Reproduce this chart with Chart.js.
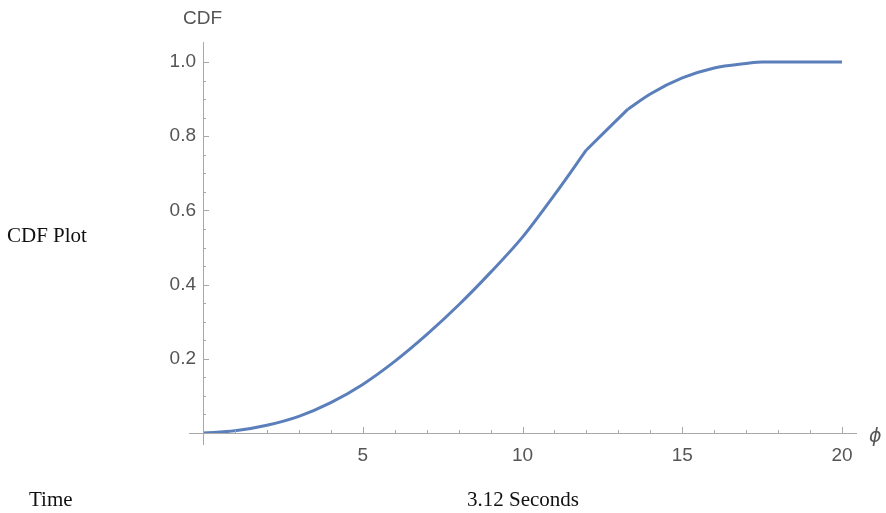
<!DOCTYPE html>
<html>
<head>
<meta charset="utf-8">
<script src="https://cdn.jsdelivr.net/npm/chart.js@4.4.0/dist/chart.umd.min.js"></script>
<style>
  html, body { margin: 0; padding: 0; background: #fff; }
  #wrap { position: relative; width: 886px; height: 513px; overflow: hidden; }
  #cdf { position: absolute; left: 0; top: 0; }
  .lbl { position: absolute; white-space: nowrap; line-height: 1; }
  .sans { font-family: 'Liberation Sans', Arial, sans-serif; color: #555; font-size: 19px; }
  .serif { font-family: 'Liberation Serif', 'Times New Roman', serif; color: #111; font-size: 21px; }
</style>
</head>
<body>
<div id="wrap">
  <canvas id="cdf" width="886" height="513"></canvas>
  <div class="lbl sans" style="left:183px; top:8px;">CDF</div>
  <div class="lbl sans" style="left:869px; top:426px; font-family:'DejaVu Sans',sans-serif; font-style:italic;">ϕ</div>
  <div class="lbl serif" style="left:7px; top:225px;">CDF Plot</div>
  <div class="lbl serif" style="left:29px; top:489px;">Time</div>
  <div class="lbl serif" style="left:467px; top:489px;">3.12 Seconds</div>
</div>
<script>
// values, in three pieces (kinks at 12 and 13.3)
const phiRise = [0, 1, 2, 3, 4, 5, 6, 7, 8, 9, 10, 11, 12];
const cdfRise = [0, 0.006, 0.021, 0.045, 0.082, 0.131, 0.193, 0.265, 0.345, 0.433, 0.528, 0.642, 0.763];
const phiBend = [12, 13.3];
const cdfBend = [0.763, 0.873];
const phiTail = [13.3, 14, 15, 16, 17, 17.5, 18, 19, 20];
const cdfTail = [0.873, 0.914, 0.957, 0.984, 0.996, 1.0, 1.0, 1.0, 1.0];
const xTickValues = [5, 10, 15, 20];
const yTickValues = [0.2, 0.4, 0.6, 0.8, 1.0];

const AXIS_COLOR = '#a8a8a8';
const LINE_COLOR = '#5b7fba';

// Mathematica-like axes crossing at the origin, with minor ticks
const axesPlugin = {
  id: 'originAxes',
  afterDraw(chart) {
    const ctx = chart.ctx;
    const xs = chart.scales.x, ys = chart.scales.y;
    const x0 = xs.getPixelForValue(0), y0 = ys.getPixelForValue(0);
    ctx.save();
    ctx.strokeStyle = AXIS_COLOR;
    ctx.lineWidth = 1;
    ctx.beginPath();
    ctx.moveTo(x0 - 14, y0 + 0.5);
    ctx.lineTo(xs.right + 15, y0 + 0.5);
    ctx.moveTo(x0 + 0.5, chart.chartArea.top);
    ctx.lineTo(x0 + 0.5, y0 + 12);
    for (let v = 1; v <= 20; v++) {
      const px = Math.round(xs.getPixelForValue(v)) + 0.5;
      const len = v % 5 === 0 ? 6 : 3;
      ctx.moveTo(px, y0);
      ctx.lineTo(px, y0 - len);
    }
    for (let i = 1; i <= 20; i++) {
      const py = Math.round(ys.getPixelForValue(i * 0.05)) + 0.5;
      const len = i % 4 === 0 ? 6 : 3;
      ctx.moveTo(x0, py);
      ctx.lineTo(x0 + len, py);
    }
    ctx.stroke();
    ctx.restore();
  }
};

const piece = (xs, ys) => ({
  data: xs.map((x, i) => ({ x: x, y: ys[i] })),
  borderColor: LINE_COLOR,
  borderWidth: 3,
  pointRadius: 0,
  fill: false,
  cubicInterpolationMode: 'monotone'
});

new Chart(document.getElementById('cdf'), {
  type: 'line',
  data: {
    datasets: [piece(phiRise, cdfRise), piece(phiBend, cdfBend), piece(phiTail, cdfTail)]
  },
  options: {
    responsive: false,
    animation: false,
    devicePixelRatio: 1,
    layout: { padding: { top: 42, right: 44, bottom: 0, left: 0 } },
    plugins: { legend: { display: false }, tooltip: { enabled: false } },
    scales: {
      x: {
        type: 'linear',
        min: 0, max: 20,
        grid: { display: false, drawTicks: false },
        border: { display: false },
        afterBuildTicks: s => { s.ticks = xTickValues.map(v => ({ value: v })); },
        afterFit: s => { s.height = 80; },
        ticks: {
          color: '#555',
          padding: 11,
          maxRotation: 0,
          font: { family: 'Liberation Sans', size: 19 },
          callback: v => String(v)
        }
      },
      y: {
        min: 0, max: 1.054,
        grid: { display: false, drawTicks: false },
        border: { display: false },
        afterBuildTicks: s => { s.ticks = yTickValues.map(v => ({ value: v })); },
        afterFit: s => { s.width = 203; },
        ticks: {
          color: '#555',
          padding: 7,
          font: { family: 'Liberation Sans', size: 19 },
          callback: v => Number(v).toFixed(1)
        }
      }
    }
  },
  plugins: [axesPlugin]
});
</script>
</body>
</html>
